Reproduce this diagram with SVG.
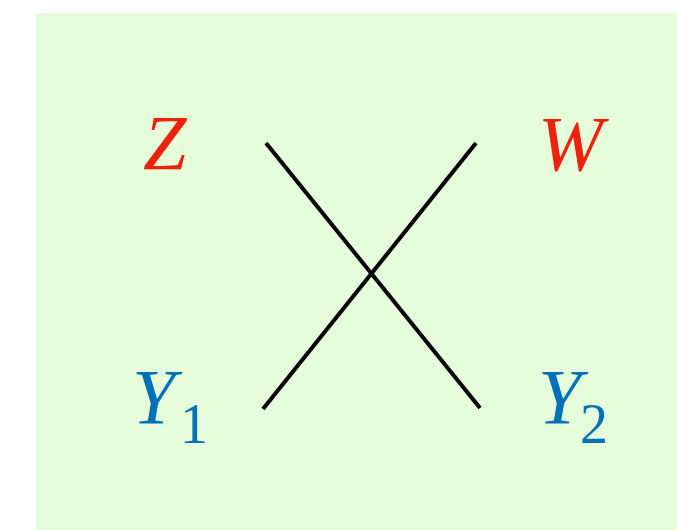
<svg xmlns="http://www.w3.org/2000/svg" width="677" height="530" viewBox="0 0 677 530">
<style>
.lbl{font-family:"Liberation Serif","Times New Roman",serif;font-size:78px;font-style:italic}
.sub{font-family:"Liberation Serif","Times New Roman",serif;font-size:56px;font-style:normal}
.red{fill:#EE220C}
.blue{fill:#0070B8}
.conn{stroke:#000;stroke-width:4;fill:none}
</style>
<rect x="36" y="13" width="641" height="517" fill="#E5FCDB"/>
<g id="connectors">
<line class="conn" x1="266" y1="143" x2="480" y2="408"/>
<line class="conn" x1="476" y1="143" x2="263" y2="409"/>
</g>
<g id="Z"><text class="lbl red" x="143" y="169">Z</text></g>
<g id="W"><text class="lbl red" x="538" y="170">W</text></g>
<g id="Y1"><text class="lbl blue" x="132" y="423">Y</text><text class="sub blue" x="180" y="443">1</text></g>
<g id="Y2"><text class="lbl blue" x="538" y="423">Y</text><text class="sub blue" x="580" y="443">2</text></g>
</svg>
